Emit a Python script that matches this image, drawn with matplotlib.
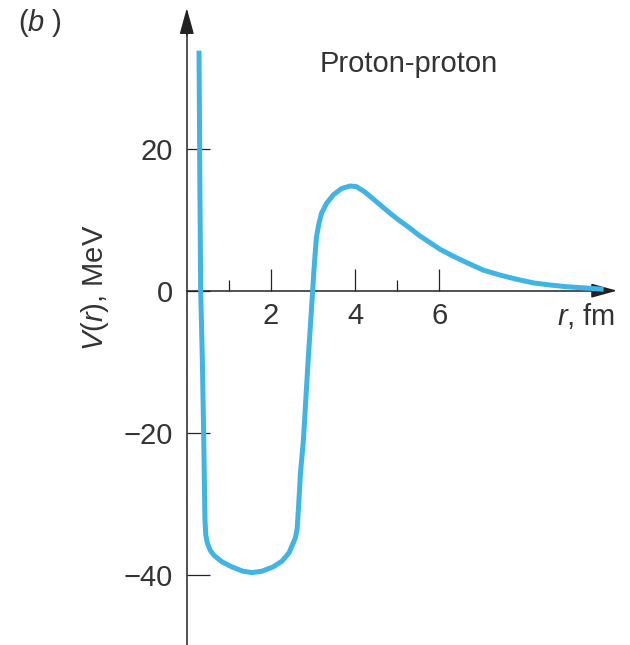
import matplotlib
matplotlib.use("Agg")
import matplotlib.pyplot as plt

# Proton-proton potential V(r): radius in fm, potential in MeV
r_fm = [0.29, 0.30, 0.31, 0.33, 0.37, 0.40, 0.42, 0.43, 0.45, 0.49,
        0.56, 0.65, 0.84, 1.07, 1.33, 1.55, 1.79, 2.05, 2.26, 2.43,
        2.53, 2.58, 2.62, 2.65, 2.70, 2.77, 2.88, 2.99, 3.02, 3.05,
        3.08, 3.14, 3.20, 3.32, 3.48, 3.68, 3.88, 4.03, 4.23, 4.51,
        4.79, 5.00, 5.30, 5.54, 6.01, 6.33, 6.65, 7.04, 7.44, 7.84,
        8.23, 8.63, 9.02, 9.42, 9.90]
v_mev = [33.8, 25.0, 15.0, 0.0, -10.0, -20.0, -28.0, -32.0, -34.4, -35.6,
         -36.6, -37.3, -38.2, -38.9, -39.5, -39.7, -39.5, -38.9, -38.1, -36.9,
         -35.5, -34.8, -33.6, -30.9, -25.7, -21.0, -10.0, 0.0, 2.9, 5.3,
         7.6, 9.5, 10.9, 12.3, 13.5, 14.4, 14.75, 14.65, 13.9, 12.5,
         11.1, 10.1, 8.8, 7.7, 5.85, 4.85, 3.95, 2.9, 2.2, 1.6,
         1.1, 0.8, 0.56, 0.4, 0.2]

x_major = [2, 4, 6]
x_major_labels = ["2", "4", "6"]
x_minor = [1, 3, 5]
y_major = [-40, -20, 0, 20]
y_major_labels = ["\u221240", "\u221220", "0", "20"]

plt.rcParams["font.family"] = ["Liberation Sans", "DejaVu Sans"]
plt.rcParams["mathtext.fontset"] = "custom"
plt.rcParams["mathtext.rm"] = "Liberation Sans"
plt.rcParams["mathtext.it"] = "Liberation Sans:italic"

ink = "#222222"
txt = "#333333"
curve = "#40b4e4"
fs = 21

fig = plt.figure(figsize=(6.3, 6.45), dpi=100)
ax = fig.add_axes([0, 0, 1, 1])
ax.set_xlim(-4.437, 10.527)
ax.set_ylim(-49.9, 40.94)

# axes crossing at the origin
for side in ("top", "right"):
    ax.spines[side].set_visible(False)
ax.spines["left"].set_position(("data", 0))
ax.spines["bottom"].set_position(("data", 0))
ax.spines["left"].set_bounds(-52, 37.0)
ax.spines["bottom"].set_bounds(0, 9.9)
for side in ("left", "bottom"):
    ax.spines[side].set_color(ink)
    ax.spines[side].set_linewidth(1.1)

arrow = dict(arrowstyle="-|>,head_length=0.8,head_width=0.22",
             mutation_scale=20, color=ink, lw=1.1, shrinkA=0, shrinkB=0)
ax.annotate("", xy=(0, 39.8), xytext=(0, 36.0), arrowprops=arrow)
ax.annotate("", xy=(10.22, 0), xytext=(9.6, 0), arrowprops=arrow)

ax.set_xticks(x_major, labels=x_major_labels)
ax.set_xticks(x_minor, minor=True)
ax.set_yticks(y_major, labels=y_major_labels)
ax.tick_params(axis="x", which="major", direction="in", length=16,
               width=0.9, color=ink, labelsize=fs, labelcolor=txt, pad=8)
ax.tick_params(axis="x", which="minor", direction="in", length=8,
               width=0.9, color=ink)
ax.tick_params(axis="y", which="major", direction="in", length=16.5,
               width=0.9, color=ink, labelsize=fs, labelcolor=txt, pad=10)

ax.plot(r_fm, v_mev, color=curve, lw=3.6, solid_capstyle="butt",
        solid_joinstyle="round", zorder=3)

ax.text(3.16, 30.85, "Proton-proton", fontsize=fs, color=txt,
        ha="left", va="baseline")
ax.text(8.8, -4.83, r"$\mathit{r}$, fm", fontsize=fs, color=txt,
        ha="left", va="baseline")
ax.set_ylabel(r"$\mathit{V}$($\mathit{r}$), MeV", fontsize=fs, color=txt,
              va="center")
ax.yaxis.set_label_coords(95 / 630, 1 - 288 / 645)
fig.text(18 / 630, 1 - 23 / 645, r"($\mathit{b}$ )", fontsize=fs,
         color=txt, ha="left", va="center")

fig.savefig("out.png", dpi=100)
